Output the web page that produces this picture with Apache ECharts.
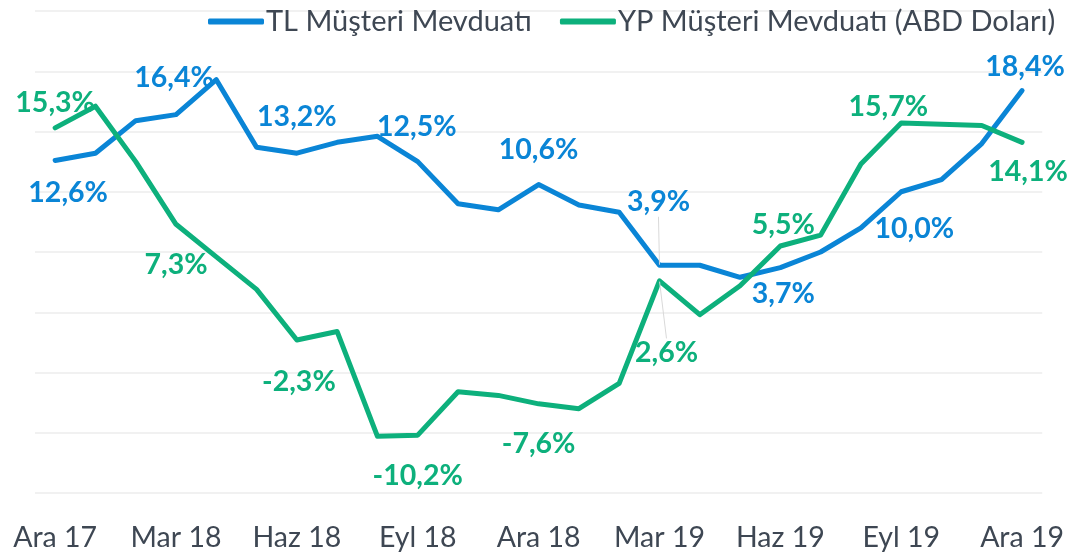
<!DOCTYPE html>
<html>
<head>
<meta charset="utf-8">
<script src="https://cdn.jsdelivr.net/npm/echarts@6/dist/echarts.min.js"></script>
<style>
html,body{margin:0;padding:0;background:#fff;}
#chart{width:1067px;height:553px;}
</style>
</head>
<body>
<div id="chart"></div>
<script>
const categories = ['Ara 17','Oca 18','Şub 18','Mar 18','Nis 18','May 18','Haz 18','Tem 18','Ağu 18','Eyl 18','Eki 18','Kas 18','Ara 18','Oca 19','Şub 19','Mar 19','Nis 19','May 19','Haz 19','Tem 19','Ağu 19','Eyl 19','Eki 19','Kas 19','Ara 19'];
const tlValues = [12.6,13.2,15.9,16.4,19.3,13.7,13.2,14.1,14.6,12.5,9.0,8.5,10.6,8.9,8.3,3.9,3.9,2.9,3.7,5.0,7.0,10.0,11.0,14.0,18.4];
const ypValues = [15.3,17.1,12.5,7.3,4.6,1.9,-2.3,-1.6,-10.3,-10.2,-6.6,-6.9,-7.6,-8.0,-5.9,2.6,-0.2,2.2,5.5,6.4,12.3,15.7,15.6,15.5,14.1];
const seriesNames = ['TL Müşteri Mevduatı','YP Müşteri Mevduatı (ABD Doları)'];
const labelledIdx = [0,3,6,9,12,15,18,21,24];

// label placement (offsets from point, px) — styling, not data
const tlLabelOffsets = {0:[13,32],3:[-2,-37],6:[0,-36],9:[-1,-35],12:[0,-35],15:[-1,-63],18:[3,26],21:[13,37],24:[3,-24]};
const ypLabelOffsets = {0:[0,-25],3:[0,41],6:[2,42],9:[0,41],12:[0,40],15:[7,72],18:[3,-21],21:[-13,-16],24:[6,29]};
const leaderIdx = [15];

const BLUE = '#0a85d6';
const GREEN = '#0db07c';
const FONT = 'Lato';

function fmt(v){ return v.toFixed(1).replace('.', ',') + '%'; }

function buildData(values){
  return values.map((v,i)=>({
    value: v,
    label: {show: labelledIdx.indexOf(i) >= 0},
    labelLine: {show: leaderIdx.indexOf(i) >= 0}
  }));
}

function makeSeries(name, values, color, offsets){
  return {
    name: name,
    type: 'line',
    data: buildData(values),
    symbol: 'circle',
    symbolSize: 1,
    showSymbol: true,
    itemStyle: {color: color},
    lineStyle: {color: color, width: 5, cap: 'round', join: 'round'},
    label: {
      position: 'inside',
      formatter: p => fmt(p.value),
      color: color,
      fontFamily: FONT,
      fontWeight: 'bold',
      fontSize: 28.5
    },
    labelLine: {lineStyle: {color: '#d9d9d9', width: 1}},
    labelLayout: function(p){
      const o = offsets[p.dataIndex];
      if (!o) return {};
      return {dx: o[0], dy: o[1]};
    },
    animation: false,
    z: 2
  };
}

const chart = echarts.init(document.getElementById('chart'));
chart.setOption({
  animation: false,
  textStyle: {fontFamily: FONT},
  legend: {
    left: 203,
    top: 2,
    itemGap: 28,
    itemWidth: 56,
    itemHeight: 6,
    icon: 'roundRect',
    textStyle: {fontFamily: FONT, fontSize: 29, color: '#3e4753', padding: [0,0,0,-3]},
    data: seriesNames
  },
  grid: {left: 35, right: 23, top: 11, bottom: 60},
  xAxis: {
    type: 'category',
    data: categories,
    boundaryGap: true,
    axisLine: {show: false},
    axisTick: {show: false},
    axisLabel: {interval: 2, fontFamily: FONT, fontSize: 28.5, color: '#3e4753', margin: 30}
  },
  yAxis: {
    type: 'value',
    min: -15, max: 25, interval: 5,
    axisLabel: {show: false},
    axisLine: {show: false},
    axisTick: {show: false},
    splitLine: {lineStyle: {color: '#f1f1f1', width: 2}}
  },
  series: [
    makeSeries(seriesNames[0], tlValues, BLUE, tlLabelOffsets),
    makeSeries(seriesNames[1], ypValues, GREEN, ypLabelOffsets)
  ]
});
</script>
</body>
</html>
